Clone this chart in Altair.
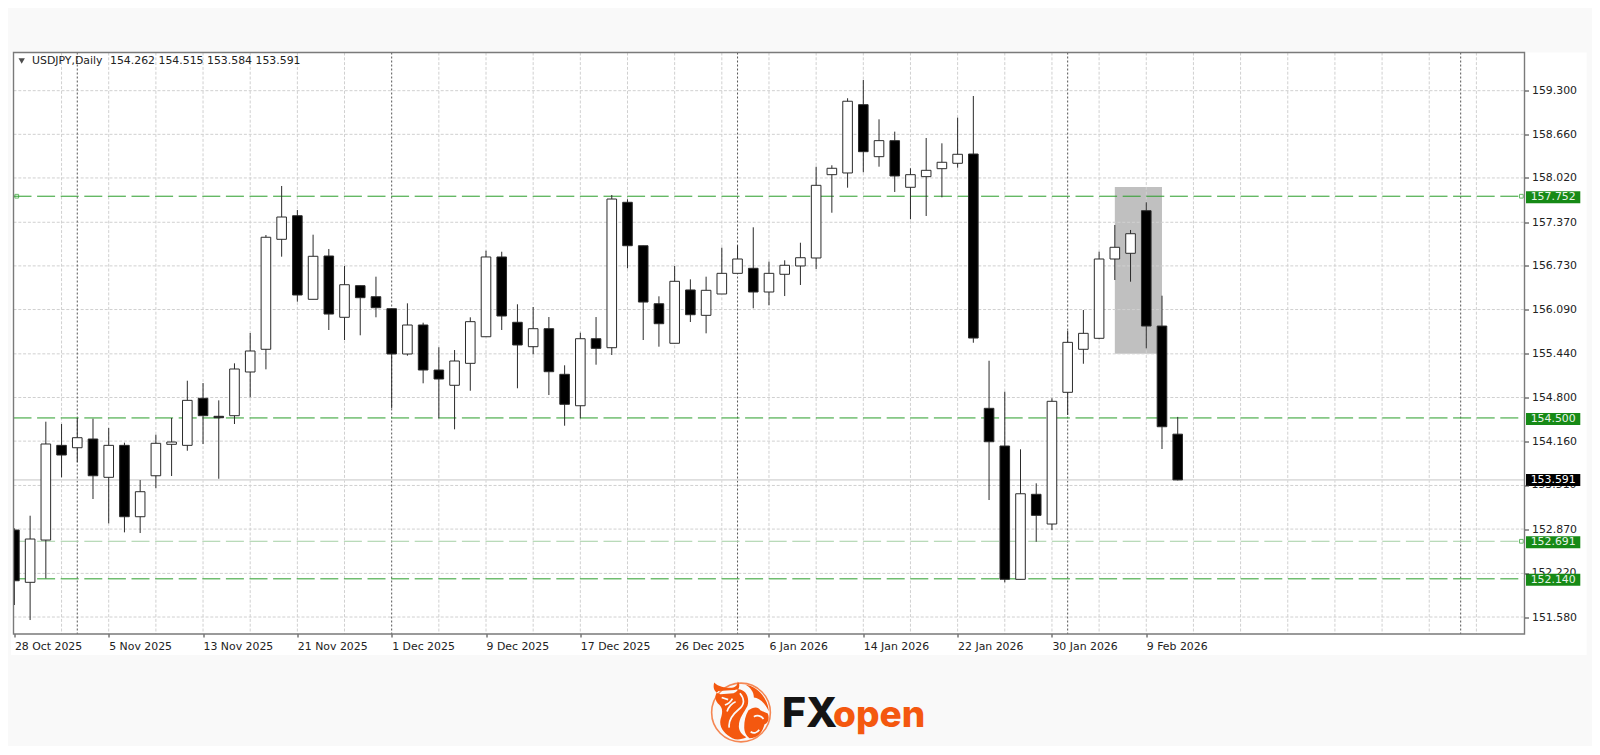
import altair as alt
import pandas as pd

opens = [152.856,152.089,152.709,154.098,154.063,154.191,153.629,154.098,153.051,153.652,154.113,154.098,154.788,154.524,154.533,155.174,155.507,157.120,157.466,156.240,156.875,155.976,156.440,156.278,156.102,155.438,155.863,155.203,154.979,155.301,155.691,156.861,155.903,155.545,155.809,155.140,154.679,155.662,155.530,157.663,157.026,156.175,155.595,156.377,156.005,156.318,156.621,156.695,156.347,156.607,156.729,156.846,158.068,158.093,159.095,158.332,158.567,157.883,158.039,158.156,158.235,158.371,154.641,154.088,152.133,153.380,152.944,154.876,155.507,155.668,156.831,156.915,157.540,155.848,154.262]
highs = [152.881,153.066,154.445,154.411,154.499,154.489,154.352,154.137,153.589,154.254,154.499,155.046,155.012,154.758,155.301,155.746,157.183,157.902,157.550,157.188,156.978,156.729,156.440,156.572,156.102,156.181,155.897,155.536,155.496,155.976,156.953,156.938,156.167,156.127,155.980,155.272,155.750,155.980,157.770,157.707,157.026,156.284,156.729,156.533,156.572,156.997,157.032,157.296,156.792,156.812,157.070,158.185,158.206,159.189,159.457,158.880,158.699,158.162,158.606,158.528,158.904,159.222,155.339,154.885,154.040,153.541,154.788,155.779,156.083,156.938,157.330,157.257,157.663,156.293,154.515]
lows = [151.756,151.536,152.147,153.629,153.849,153.311,152.954,152.822,152.812,153.468,153.648,154.019,154.118,153.608,154.411,154.803,155.213,156.865,156.205,156.240,155.790,155.643,155.712,155.976,154.641,155.413,155.008,154.494,154.333,154.899,155.691,155.790,154.935,155.433,154.836,154.386,154.494,155.281,155.423,156.695,155.643,155.545,155.595,155.907,155.741,156.318,156.621,156.108,156.152,156.288,156.450,156.685,157.510,157.877,158.103,158.185,157.814,157.414,157.462,157.736,158.170,155.603,153.296,152.089,152.133,152.684,152.856,154.543,155.295,155.653,156.523,156.498,155.521,154.044,153.584]
closes = [152.112,152.724,154.118,153.956,154.210,153.652,154.098,153.051,153.418,154.128,154.147,154.758,154.533,154.503,155.218,155.482,157.150,157.447,156.303,156.871,156.024,156.454,156.264,156.117,155.438,155.863,155.203,155.071,155.335,155.912,156.861,155.995,155.570,155.809,155.178,154.700,155.662,155.521,157.711,157.026,156.200,155.882,156.504,156.014,156.372,156.621,156.831,156.347,156.621,156.739,156.850,157.912,158.162,159.145,158.405,158.567,158.049,158.068,158.132,158.250,158.367,155.672,154.151,152.133,153.388,153.071,154.744,155.609,155.741,156.831,157.003,157.202,155.848,154.371,153.591]

y_ticks = [159.30,158.66,158.02,157.37,156.73,156.09,155.44,154.80,154.16,153.51,152.87,152.22,151.58]
hidden_y_ticks = [153.51,152.22]
date_ticks = [0,6,12,18,24,30,36,42,48,54,60,66,72]
date_labels = ["28 Oct 2025","5 Nov 2025","13 Nov 2025","21 Nov 2025","1 Dec 2025","9 Dec 2025","17 Dec 2025","26 Dec 2025","6 Jan 2026","14 Jan 2026","22 Jan 2026","30 Jan 2026","9 Feb 2026"]
grid_bars = [3,6,9,12,15,18,21,27,30,33,36,39,42,45,48,51,54,57,60,63,66,69,72,75,78,81,84,87,90,93]
period_bars = [4,24,46,67,92]
levels = [157.752,154.500,152.691,152.140]
level_colors = ["#2a9d2a","#2a9d2a","#a5cfa5","#2a9d2a"]
level_box = ["#168a16","#168a16","#168a16","#168a16"]
anchor_bars = [0.15,95.86,95.86]
anchor_vals = [157.752,157.752,152.691]
last_price = 153.591
header_name = "USDJPY,Daily"
header_vals = "154.262 154.515 153.584 153.591"
zone = {"x": 70, "x2": 73, "y": 157.887, "y2": 155.44}

W, H = 1511, 581.5
OX, OY = 13.5, 52.5
FONT = "DejaVu Sans"
FS = 10.9
ORANGE = "#f4580f"

x_scale = alt.Scale(domain=[-0.057, 96.06], nice=False, zero=False, padding=0)
y_scale = alt.Scale(domain=[151.331, 159.860], nice=False, zero=False)

n = len(opens)
candles = pd.DataFrame({
    "i": list(range(n)), "o": opens, "h": highs, "l": lows, "c": closes,
    "fill": ["#000000" if closes[k] < opens[k] else "#ffffff" for k in range(n)],
})
one = pd.DataFrame({"a": [0]})

x_axis = alt.Axis(values=date_ticks, labelExpr="[" + ",".join(f"'{d}'" for d in date_labels) + "][datum.value/6]",
                  grid=False, domain=False, ticks=True, tickSize=3, tickColor="#333333", labelAlign="left",
                  labelBaseline="top", labelPadding=3, labelFont=FONT, labelFontSize=FS, labelColor="#222222",
                  labelBound=False, labelFlush=False, labelOverlap=False, zindex=1)
y_expr = "(" + " || ".join(f"abs(datum.value-{v})<0.001" for v in hidden_y_ticks) + ") ? '' : format(datum.value,'.3f')"
y_axis = alt.Axis(values=y_ticks, labelExpr=y_expr, orient="right", grid=False, domain=False, ticks=True,
                  tickSize=4, tickColor="#333333", labelPadding=3, labelFont=FONT, labelFontSize=FS,
                  labelColor="#222222", labelBound=False, labelFlush=False, labelOverlap=False, zindex=1)

def X(field="i"):
    return alt.X(f"{field}:Q", scale=x_scale, axis=x_axis, title=None)
def Y(field="v"):
    return alt.Y(f"{field}:Q", scale=y_scale, axis=y_axis, title=None)

panel = alt.Chart(one).mark_rect(fill="#ffffff", strokeWidth=0).encode(
    x=alt.value(-2.5), x2=alt.value(1573.2), y=alt.value(0), y2=alt.value(602.5))

zone_rect = alt.Chart(pd.DataFrame([zone])).mark_rect(fill="#c0c0c0", strokeWidth=0).encode(
    x=X("x"), x2="x2:Q", y=Y("y"), y2="y2:Q")

hgrid = alt.Chart(pd.DataFrame({"v": y_ticks})).mark_rule(color="#d0d0d0", strokeWidth=1, strokeDash=[3, 1.8]).encode(
    y=Y("v"), x=alt.value(0), x2=alt.value(W))
vgrid = alt.Chart(pd.DataFrame({"i": grid_bars})).mark_rule(color="#d0d0d0", strokeWidth=1, strokeDash=[3, 1.8]).encode(
    x=X(), y=alt.value(0), y2=alt.value(H))
vsep = alt.Chart(pd.DataFrame({"i": period_bars})).mark_rule(color="#555555", strokeWidth=1, strokeDash=[2, 2]).encode(
    x=X(), y=alt.value(0), y2=alt.value(H))

last_line = alt.Chart(pd.DataFrame({"v": [last_price]})).mark_rule(color="#dedede", strokeWidth=1.6).encode(
    y=Y(), x=alt.value(0), x2=alt.value(W))

level_df = pd.DataFrame({"v": levels, "col": level_colors, "box": level_box})
level_lines = alt.Chart(level_df).mark_rule(strokeWidth=1, strokeDash=[18, 5.6]).encode(
    y=Y(), x=alt.value(0), x2=alt.value(W), color=alt.Color("col:N", scale=None))

anchors = alt.Chart(pd.DataFrame({"i": anchor_bars, "v": anchor_vals})).mark_point(
    shape="square", size=14, filled=False, color="#2a9d2a", strokeWidth=1).encode(x=X(), y=Y())

wicks = alt.Chart(candles).mark_rule(color="#2b2b2b", strokeWidth=1, clip=True).encode(
    x=X(), y=Y("h"), y2="l:Q")
bodies = alt.Chart(candles).mark_bar(size=9.6, stroke="#2b2b2b", strokeWidth=1, clip=True).encode(
    x=X(), y=Y("o"), y2="c:Q", fill=alt.Fill("fill:N", scale=None))

hidden_text = alt.Chart(pd.DataFrame({"v": hidden_y_ticks})).mark_text(
    align="left", baseline="middle", font=FONT, fontSize=FS, color="#222222").encode(
    y=Y(), x=alt.value(W + 7), text=alt.Text("v:Q", format=".3f"))

BX0, BX1 = 1526 - OX, 1580.3 - OX
level_boxes = alt.Chart(level_df).mark_rule(strokeWidth=12, yOffset=1).encode(
    y=Y(), x=alt.value(BX0), x2=alt.value(BX1), color=alt.Color("box:N", scale=None))
level_text = alt.Chart(level_df).mark_text(align="center", baseline="middle", dy=1, font=FONT, fontSize=FS, color="#e6f4e6").encode(
    y=Y(), x=alt.value((BX0 + BX1) / 2), text=alt.Text("v:Q", format=".3f"))
last_box = alt.Chart(pd.DataFrame({"v": [last_price]})).mark_rule(strokeWidth=12, color="#000000").encode(
    y=Y(), x=alt.value(BX0), x2=alt.value(BX1))
last_text = alt.Chart(pd.DataFrame({"v": [last_price]})).mark_text(align="center", baseline="middle", font=FONT, fontSize=FS, color="#ffffff").encode(
    y=Y(), x=alt.value((BX0 + BX1) / 2), text=alt.Text("v:Q", format=".3f"))

frame = alt.Chart(one).mark_rect(fill=None, stroke="#7a7a7a", strokeWidth=1.4).encode(
    x=alt.value(0), x2=alt.value(W), y=alt.value(0), y2=alt.value(H))

tri = alt.Chart(one).mark_point(shape="triangle-down", size=40, filled=True, color="#000000", strokeWidth=0).encode(
    x=alt.value(21.7 - OX), y=alt.value(61 - OY))
head1 = alt.Chart(pd.DataFrame({"t": [header_name]})).mark_text(
    align="left", baseline="middle", font=FONT, fontSize=FS, color="#222222").encode(
    x=alt.value(32 - OX), y=alt.value(61.3 - OY), text="t:N")
head2 = alt.Chart(pd.DataFrame({"t": [header_vals]})).mark_text(
    align="left", baseline="middle", font=FONT, fontSize=FS, color="#222222").encode(
    x=alt.value(110 - OX), y=alt.value(61.3 - OY), text="t:N")

# Logo
LX, LY = 741 - OX, 712.5 - OY
ring = alt.Chart(one).mark_point(shape="circle", size=3450, filled=False, color=ORANGE, strokeWidth=1.6).encode(
    x=alt.value(LX), y=alt.value(LY))
bull_fill = ("M-25,-28 C-27,-21 -23,-18 -19,-17 L-7,-18 C-2,-20 0,-25 -3,-29 C-3,-25 -6,-23 -10,-23 C-15,-23 -21,-24 -25,-28 Z "
             "M-21,-20 L-6,-21 C2,-24 9,-16 6,-6 C3,0 -2,5 -2,13 C-2,17 1,21 5,23 C1,25 -4,26 -8,24 C-15,20 -21,14 -19,6 C-17,0 -17,-4 -20,-7 C-25,-11 -25,-17 -21,-20 Z "
             "M4,-26 C15,-24 25,-14 26,-1 C23,-8 17,-14 12,-14 C12,-19 9,-23 4,-26 Z "
             "M7,-2 C11,-5 16,-6 18,-2 L25,1 C27,6 25,10 22,11 C20,18 16,24 8,24 C5,22 3,18 3,14 C3,8 4,3 7,-2 Z")
stripes = ("M-1,-18 C4,-12 3,-7 -2,-3 C-8,2 -12,7 -11,14 "
           "M-13,-1 C-12,-5 -8,-9 -5,-10 "
           "M-18,-14 L-12,-12 M-15,-7 C-12,-8 -10,-9 -8,-13 "
           "M12,4 C15,2 19,3 21,6 M9,18 C12,20 15,19 17,16")
bull = alt.Chart(one).mark_point(shape=bull_fill, size=4.6, filled=True, color=ORANGE, strokeWidth=0, opacity=1).encode(
    x=alt.value(LX), y=alt.value(LY))
bull2 = alt.Chart(one).mark_point(shape=stripes, size=4.6, filled=False, color="#f9f9f9", strokeWidth=1.7, opacity=1).encode(
    x=alt.value(LX), y=alt.value(LY))
fx = alt.Chart(pd.DataFrame({"t": ["FX"]})).mark_text(align="left", baseline="alphabetic", font="Inter", fontWeight=800,
    fontSize=41, color="#141414").encode(x=alt.value(782 - OX), y=alt.value(727 - OY), text="t:N")
op = alt.Chart(pd.DataFrame({"t": ["open"]})).mark_text(align="left", baseline="alphabetic", font="Inter", fontWeight=800,
    fontSize=37, color=ORANGE).encode(x=alt.value(833 - OX), y=alt.value(727 - OY), text="t:N")

chart = alt.layer(panel, zone_rect, hgrid, vgrid, vsep, last_line, level_lines, anchors, wicks, bodies,
                  hidden_text, level_boxes, level_text, last_box, last_text, frame, tri, head1, head2,
                  ring, bull, bull2, fx, op).properties(
    width=W, height=H, background="#f9f9f9",
    padding={"left": OX - 8, "top": OY - 8, "right": 1584 - (OX - 8) - W, "bottom": 738 - (OY - 8) - H},
    autosize=alt.AutoSizeParams(type="none", contains="content"),
).configure_view(stroke=None)

chart.save("out.html", embed_options={"renderer": "svg", "actions": False})
